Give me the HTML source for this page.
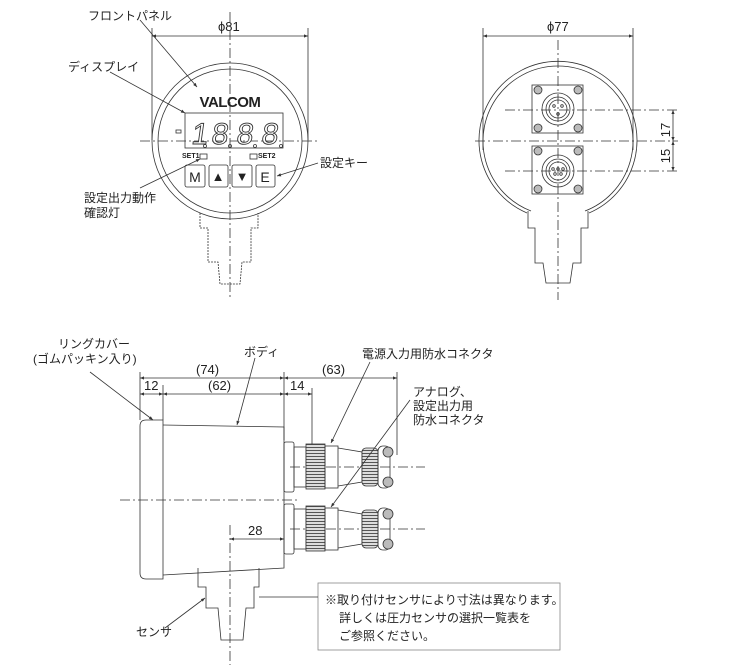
<!DOCTYPE html>
<html><head><meta charset="utf-8"><style>
html,body{margin:0;padding:0;background:#fff}
svg{display:block}
text{font-family:"Liberation Sans","Noto Sans CJK JP",sans-serif;fill:#222}
.j{font-size:12px}
.d{font-size:13px}
.g{font-size:30px;fill:#fff;stroke:#333;stroke-width:0.9}
</style></head><body>
<svg width="745" height="670" viewBox="0 0 745 670" xmlns="http://www.w3.org/2000/svg">
<defs>
<marker id="a" viewBox="0 0 10 10" refX="10" refY="5" markerWidth="7" markerHeight="5" orient="auto-start-reverse"><path d="M0,1 L10,5 L0,9z" fill="#333"/></marker>
<pattern id="h" width="2" height="3" patternUnits="userSpaceOnUse"><rect width="2" height="3" fill="#ddd"/><rect width="2" height="1" fill="#555"/></pattern>
</defs>
<g stroke="#333" fill="none" stroke-width="0.8">
<!-- FRONT VIEW -->
<line x1="152" y1="28" x2="152" y2="140"/><line x1="308" y1="28" x2="308" y2="140"/>
<line x1="152" y1="36" x2="308" y2="36" marker-start="url(#a)" marker-end="url(#a)"/>
<circle cx="230" cy="141" r="78"/><circle cx="230" cy="141" r="72"/>
<rect x="185" y="113" width="98" height="35"/>
<rect x="176" y="130" width="5" height="3"/>
<rect x="200" y="154" width="7" height="5"/><rect x="250" y="154" width="7" height="5"/>
<rect x="185" y="165" width="20" height="22" rx="2"/><rect x="209" y="165" width="19" height="22" rx="2"/>
<rect x="232" y="165" width="20" height="22" rx="2"/><rect x="256" y="165" width="19" height="22" rx="2"/>
<path d="M200,213 V228 H208 V262 H218 L220,284 H240 L242,262 H251 V228 H258 V213" stroke-dasharray="2,1"/>
<line x1="230" y1="12" x2="230" y2="300" stroke-dasharray="10,3,2,3"/>
<line x1="140" y1="141" x2="320" y2="141" stroke-dasharray="10,3,2,3"/>
<circle cx="205" cy="146" r="1.5"/><circle cx="230" cy="146" r="1.5"/><circle cx="255" cy="146" r="1.5"/><circle cx="281" cy="146" r="1.5"/>
<!-- leaders front -->
<line x1="140" y1="20" x2="197" y2="87" marker-end="url(#a)"/>
<line x1="110" y1="72" x2="185" y2="113" marker-end="url(#a)"/>
<line x1="140" y1="188" x2="200" y2="159" marker-end="url(#a)"/>
<line x1="318" y1="163" x2="277" y2="176" marker-end="url(#a)"/>
<!-- BACK VIEW -->
<line x1="483" y1="28" x2="483" y2="150"/><line x1="633" y1="28" x2="633" y2="150"/>
<line x1="483" y1="36" x2="633" y2="36" marker-start="url(#a)" marker-end="url(#a)"/>
<path d="M527,213 A79,79 0 1 1 589,213"/>
<path d="M531,211 A75,75 0 1 1 585,211"/>
<rect x="532" y="85" width="51" height="48"/><rect x="532" y="146" width="51" height="48"/>
<circle cx="558" cy="109" r="16"/><circle cx="558" cy="109" r="12"/><circle cx="558" cy="109" r="9"/>
<circle cx="558" cy="171" r="16"/><circle cx="558" cy="171" r="12"/><circle cx="558" cy="171" r="9"/>
<circle cx="554" cy="106" r="1.3"/><circle cx="562" cy="106" r="1.3"/><circle cx="558" cy="114" r="1.3"/>
<circle cx="553" cy="169" r="1.3"/><circle cx="558" cy="169" r="1.3"/><circle cx="563" cy="169" r="1.3"/><circle cx="555" cy="174" r="1.3"/><circle cx="561" cy="174" r="1.3"/>
<g fill="#bbb"><circle cx="538" cy="90" r="4"/><circle cx="578" cy="90" r="4"/><circle cx="538" cy="128" r="4"/><circle cx="578" cy="128" r="4"/>
<circle cx="538" cy="151" r="4"/><circle cx="578" cy="151" r="4"/><circle cx="538" cy="189" r="4"/><circle cx="578" cy="189" r="4"/></g>
<path d="M528,211 V228 H535 V263 H543 L546,283 H570 L573,263 H581 V228 H588 V211"/>
<line x1="558" y1="40" x2="558" y2="300" stroke-dasharray="10,3,2,3"/>
<line x1="475" y1="141" x2="678" y2="141" stroke-dasharray="10,3,2,3"/>
<line x1="505" y1="110" x2="678" y2="110" stroke-dasharray="10,3,2,3"/>
<line x1="505" y1="171" x2="678" y2="171" stroke-dasharray="10,3,2,3"/>
<line x1="673" y1="110" x2="673" y2="141" marker-start="url(#a)" marker-end="url(#a)"/>
<line x1="673" y1="141" x2="673" y2="171" marker-start="url(#a)" marker-end="url(#a)"/>
<!-- SIDE VIEW -->
<line x1="140" y1="372" x2="140" y2="420"/><line x1="163" y1="385" x2="163" y2="420"/>
<line x1="284" y1="372" x2="284" y2="440"/><line x1="312" y1="388" x2="312" y2="445"/><line x1="397" y1="372" x2="397" y2="455"/>
<line x1="140" y1="378" x2="284" y2="378" marker-start="url(#a)" marker-end="url(#a)"/>
<line x1="284" y1="378" x2="397" y2="378" marker-start="url(#a)" marker-end="url(#a)"/>
<line x1="140" y1="394" x2="163" y2="394" marker-start="url(#a)" marker-end="url(#a)"/>
<line x1="163" y1="394" x2="284" y2="394" marker-start="url(#a)" marker-end="url(#a)"/>
<line x1="284" y1="394" x2="312" y2="394" marker-start="url(#a)" marker-end="url(#a)"/>
<path d="M163,420 H146 Q140,420 140,426 V573 Q140,579 146,579 H163 Z"/>
<path d="M163,425 L284,427 V568 L163,575"/>
<path d="M198,568 V587 H206 V608 H218 L221,640 H243 L246,608 H254 V587 H259 V568"/>
<line x1="230" y1="525" x2="230" y2="665" stroke-dasharray="10,3,2,3"/>
<line x1="230" y1="539" x2="284" y2="539" marker-start="url(#a)" marker-end="url(#a)"/>
<line x1="120" y1="500" x2="300" y2="500" stroke-dasharray="10,3,2,3"/>
<line x1="290" y1="467" x2="425" y2="467" stroke-dasharray="10,3,2,3"/>
<line x1="290" y1="529" x2="425" y2="529" stroke-dasharray="10,3,2,3"/>
<g id="c">
<rect x="284" y="442" width="10" height="50" rx="2"/>
<rect x="294" y="447" width="12" height="40"/>
<rect x="306" y="444" width="19" height="45" fill="url(#h)"/>
<rect x="325" y="446" width="13" height="42"/>
<path d="M338,448 L362,452 V482 L338,486"/>
<rect x="362" y="448" width="16" height="38" rx="4" fill="url(#h)"/>
<rect x="378" y="446" width="12" height="42" rx="5"/>
<circle cx="388" cy="452" r="5" fill="#bbb"/><circle cx="388" cy="482" r="5" fill="#bbb"/>
</g>
<use href="#c" y="62"/>
<rect x="318" y="583" width="242" height="67" stroke="#888"/>
<line x1="259" y1="597" x2="318" y2="597"/>
<!-- leaders side -->
<line x1="90" y1="372" x2="153" y2="420" marker-end="url(#a)"/>
<line x1="255" y1="358" x2="237" y2="425" marker-end="url(#a)"/>
<line x1="370" y1="362" x2="331" y2="443" marker-end="url(#a)"/>
<line x1="410" y1="400" x2="331" y2="507" marker-end="url(#a)"/>
<line x1="165" y1="628" x2="205" y2="598" marker-end="url(#a)"/>
</g>
<!-- display content -->
<text x="230" y="107" text-anchor="middle" style="font-size:15px;font-weight:bold;letter-spacing:-0.5px">VALCOM</text>
<g transform="translate(0,144) skewX(-8)">
<text class="g" x="199" y="0" text-anchor="middle">1</text>
<text class="g" x="219" y="0" text-anchor="middle">8</text>
<text class="g" x="244" y="0" text-anchor="middle">8</text>
<text class="g" x="269" y="0" text-anchor="middle">8</text>
</g>
<text x="182" y="158" style="font-size:7px;font-weight:bold">SET1</text>
<text x="258" y="158" style="font-size:7px;font-weight:bold">SET2</text>
<text x="195" y="182" text-anchor="middle" style="font-size:14px">M</text>
<text x="218" y="181" text-anchor="middle" style="font-size:13px">▲</text>
<text x="242" y="181" text-anchor="middle" style="font-size:13px">▼</text>
<text x="265" y="182" text-anchor="middle" style="font-size:14px">E</text>
<!-- labels -->
<text class="j" x="88" y="20">フロントパネル</text>
<text class="j" x="68" y="71">ディスプレイ</text>
<text class="j" x="320" y="167">設定キー</text>
<text class="j" x="84" y="202">設定出力動作</text>
<text class="j" x="84" y="217">確認灯</text>
<text class="d" x="218" y="31">ϕ81</text>
<text class="d" x="547" y="31">ϕ77</text>
<text class="d" x="670" y="130" transform="rotate(-90 670 130)" text-anchor="middle">17</text>
<text class="d" x="670" y="156" transform="rotate(-90 670 156)" text-anchor="middle">15</text>
<text class="j" x="58" y="348">リングカバー</text>
<text class="j" x="33" y="363">(ゴムパッキン入り)</text>
<text class="j" x="244" y="356">ボディ</text>
<text class="j" x="362" y="358">電源入力用防水コネクタ</text>
<text class="j" x="413" y="396">アナログ、</text>
<text class="j" x="413" y="410">設定出力用</text>
<text class="j" x="413" y="424">防水コネクタ</text>
<text class="d" x="196" y="374">(74)</text>
<text class="d" x="322" y="374">(63)</text>
<text class="d" x="144" y="390">12</text>
<text class="d" x="208" y="390">(62)</text>
<text class="d" x="290" y="390">14</text>
<text class="d" x="248" y="535">28</text>
<text class="j" x="136" y="636">センサ</text>
<text class="j" x="325" y="604">※取り付けセンサにより寸法は異なります。</text>
<text class="j" x="339" y="622">詳しくは圧力センサの選択一覧表を</text>
<text class="j" x="339" y="640">ご参照ください。</text>
</svg>
</body></html>
